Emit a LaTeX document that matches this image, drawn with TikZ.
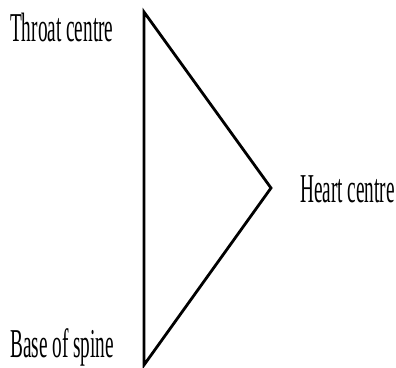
\documentclass[tikz,border=0pt]{standalone}
\usepackage{fontspec}
\usepackage{tikz}
\usetikzlibrary{positioning}
\newfontfamily\narrowserif[FakeStretch=0.47]{Liberation Serif}

\begin{document}
\begin{tikzpicture}[x=1pt, y=1pt,
  label_/.style={anchor=base west, inner sep=0pt,
    font=\narrowserif\fontsize{41}{41}\selectfont},
  edge_/.style={line width=2.8pt, line join=miter, color=black}
]
\useasboundingbox (0,0) rectangle (396,367);
\coordinate (throat) at (144,355);
\coordinate (heart) at (271,179);
\coordinate (base) at (144,2);

\node[label_] (throatlbl) at (10,325) {Throat centre};
\node[label_] (heartlbl) at (300,164) {Heart centre};
\node[label_] (baselbl) at (10,10) {Base of spine};

\draw[edge_] (throat) -- (heart) -- (base) -- cycle;
\end{tikzpicture}
\end{document}
